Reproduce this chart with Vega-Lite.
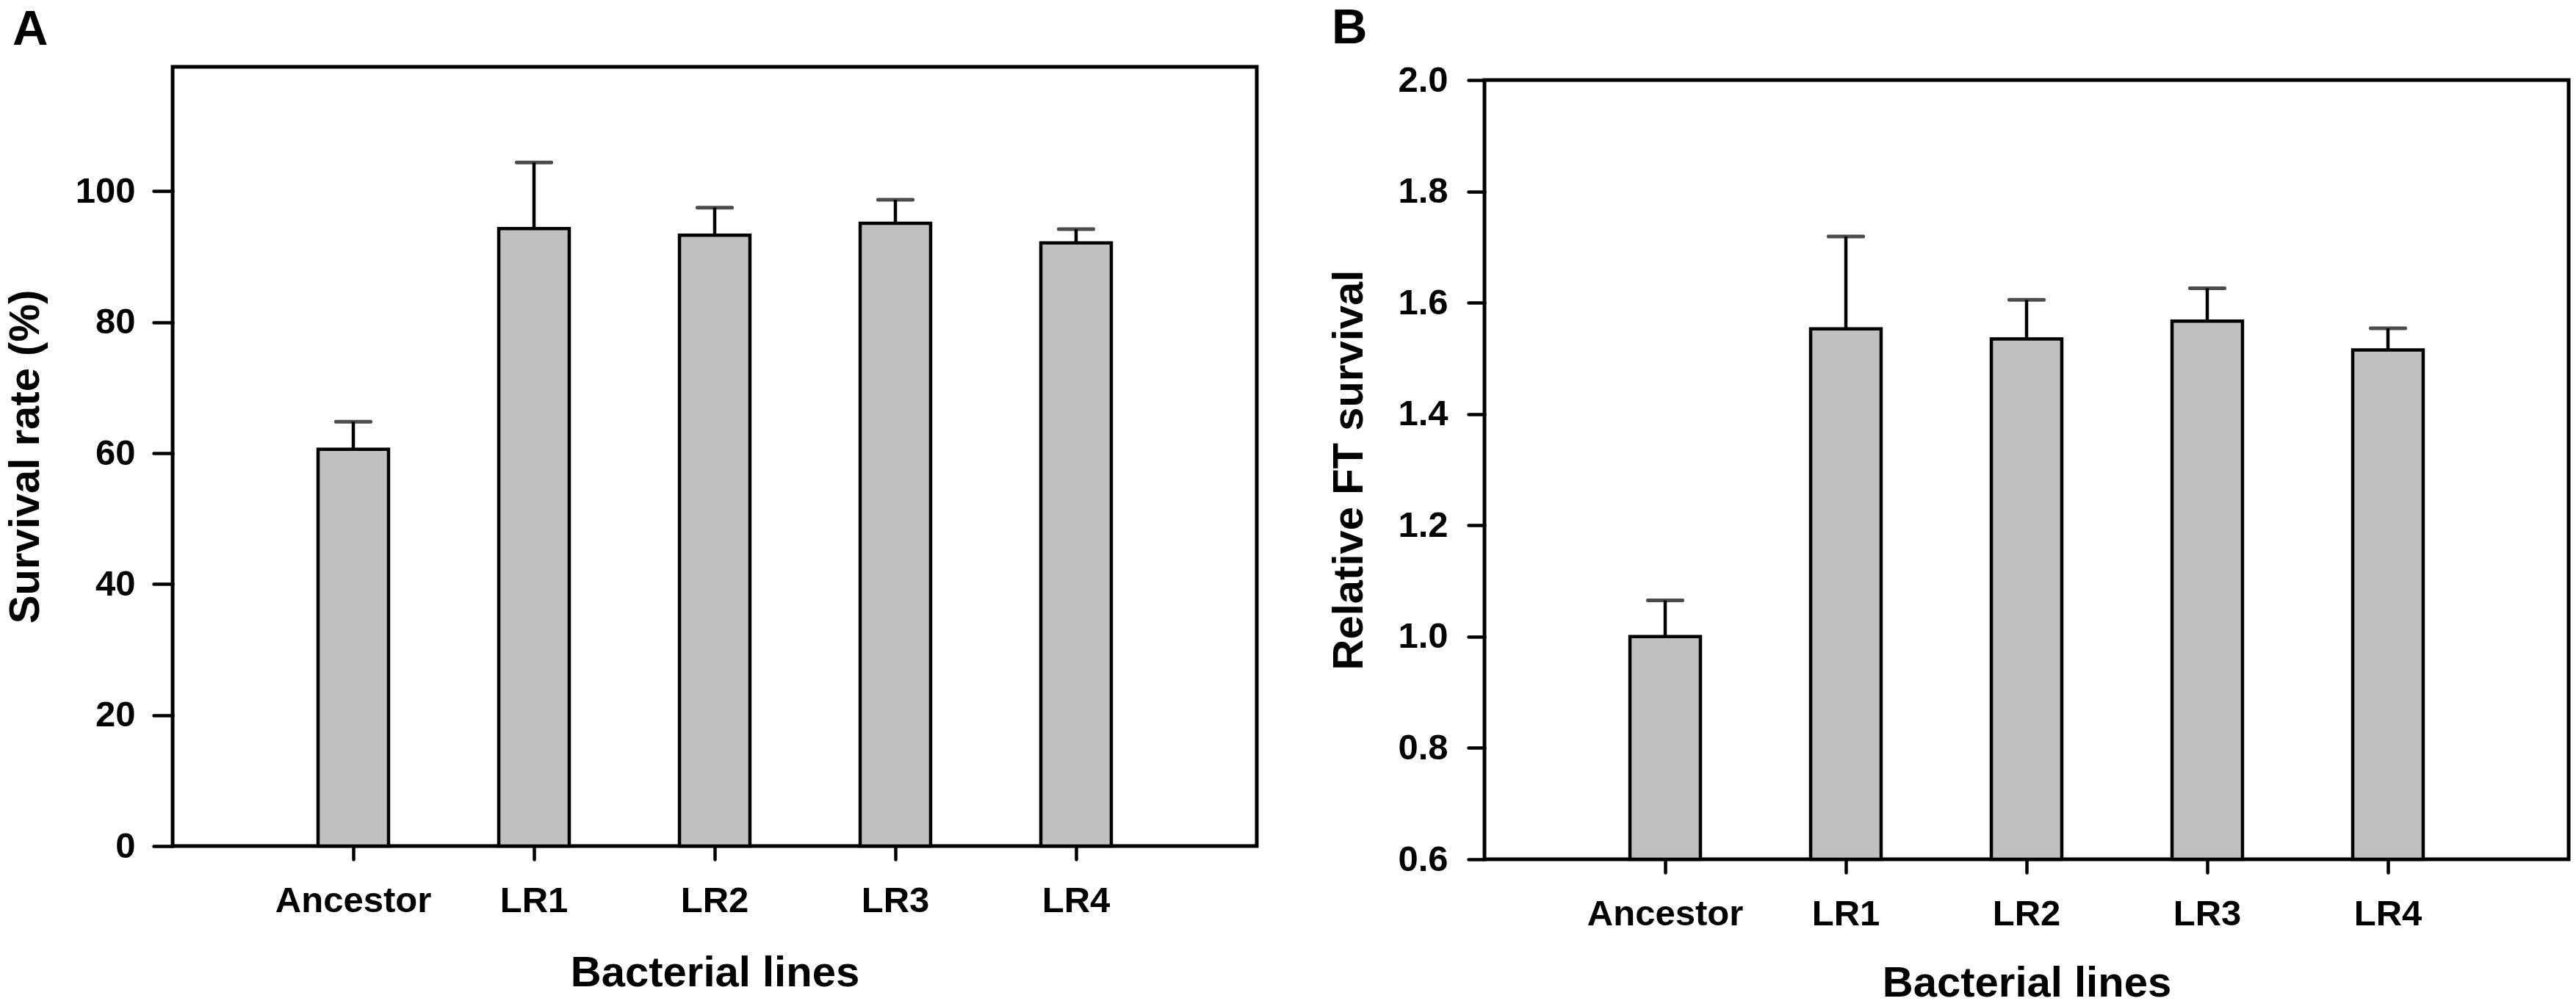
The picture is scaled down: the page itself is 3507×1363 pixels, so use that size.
{
  "$schema": "https://vega.github.io/schema/vega-lite/v6.json",
  "description": "Survival rate and relative FT survival of ancestor and evolved bacterial lines, mean with upper error bar.",
  "background": "white",
  "padding": {"left": 3, "top": 4, "right": 10, "bottom": 0},
  "spacing": 91,
  "config": {
    "font": "Liberation Sans",
    "view": {"stroke": "black", "strokeWidth": 5},
    "axis": {
      "grid": false,
      "domain": false,
      "labelFont": "Liberation Sans",
      "labelFontSize": 49,
      "labelFontWeight": "bold",
      "labelColor": "black",
      "labelLimit": 0,
      "titleFont": "Liberation Sans",
      "titleFontSize": 58,
      "titleFontWeight": "bold",
      "titleColor": "black",
      "tickColor": "black",
      "tickWidth": 4.5,
      "tickCap": "round"
    },
    "title": {
      "font": "Liberation Sans",
      "fontSize": 67,
      "fontWeight": "bold",
      "color": "black",
      "anchor": "start",
      "frame": "group",
      "baseline": "alphabetic"
    }
  },
  "hconcat": [
    {
      "title": {"text": "A", "dx": -218, "offset": 16},
      "width": 1476,
      "height": 1061,
      "data": {
        "values": [
          {"line": "Ancestor", "mean": 60.6, "upper": 64.8},
          {"line": "LR1", "mean": 94.3, "upper": 104.4},
          {"line": "LR2", "mean": 93.3, "upper": 97.5},
          {"line": "LR3", "mean": 95.1, "upper": 98.7},
          {"line": "LR4", "mean": 92.1, "upper": 94.2}
        ]
      },
      "encoding": {
        "x": {
          "field": "line",
          "type": "nominal",
          "sort": null,
          "scale": {"type": "band", "paddingInner": 0.61, "paddingOuter": 0.805},
          "axis": {
            "title": "Bacterial lines",
            "labelAngle": 0,
            "tickSize": 18,
            "labelPadding": 32,
            "titleY": 190,
            "titleBaseline": "alphabetic"
          }
        }
      },
      "layer": [
        {
          "mark": {"type": "bar", "fill": "#c0c0c0", "stroke": "black", "strokeWidth": 4.5},
          "encoding": {
            "y": {
              "field": "mean",
              "type": "quantitative",
              "scale": {"domain": [0, 119], "nice": false},
              "axis": {
                "title": "Survival rate (%)",
                "values": [0, 20, 40, 60, 80, 100],
                "format": "d",
                "tickSize": 26,
                "labelPadding": 25,
                "titleX": -183,
                "titleBaseline": "alphabetic"
              }
            }
          }
        },
        {
          "mark": {"type": "rule", "color": "black", "strokeWidth": 4.5},
          "encoding": {
            "y": {"field": "mean", "type": "quantitative"},
            "y2": {"field": "upper"}
          }
        },
        {
          "mark": {"type": "tick", "color": "black", "size": 52, "thickness": 5, "cornerRadius": 2},
          "encoding": {
            "y": {"field": "upper", "type": "quantitative"}
          }
        }
      ]
    },
    {
      "bounds": "flush",
      "spacing": 17,
      "vconcat": [
        {
          "title": {"text": "B", "dx": -208, "offset": 16},
          "width": 1476,
          "height": 1,
          "view": {"stroke": null},
          "data": {"values": [{"line": "B"}]},
          "mark": {"type": "point", "opacity": 0},
          "encoding": {}
        },
        {
          "width": 1476,
          "height": 1061,
          "data": {
            "values": [
              {"line": "Ancestor", "mean": 1.0, "upper": 1.065},
              {"line": "LR1", "mean": 1.553, "upper": 1.719},
              {"line": "LR2", "mean": 1.535, "upper": 1.605},
              {"line": "LR3", "mean": 1.567, "upper": 1.626},
              {"line": "LR4", "mean": 1.515, "upper": 1.554}
            ]
          },
          "encoding": {
            "x": {
              "field": "line",
              "type": "nominal",
              "sort": null,
              "scale": {"type": "band", "paddingInner": 0.61, "paddingOuter": 0.805},
              "axis": {
                "title": "Bacterial lines",
                "labelAngle": 0,
                "tickSize": 18,
                "labelPadding": 32,
                "titleY": 186,
                "titleBaseline": "alphabetic"
              }
            }
          },
          "layer": [
            {
              "mark": {"type": "bar", "fill": "#c0c0c0", "stroke": "black", "strokeWidth": 4.5},
              "encoding": {
                "y": {
                  "field": "mean",
                  "type": "quantitative",
                  "scale": {"domain": [0.6, 2.0], "nice": false, "zero": false},
                  "axis": {
                    "title": "Relative FT survival",
                    "values": [0.6, 0.8, 1.0, 1.2, 1.4, 1.6, 1.8, 2.0],
                    "format": ".1f",
                    "tickSize": 22,
                    "labelPadding": 28,
                    "titleX": -167,
                    "titleBaseline": "alphabetic"
                  }
                },
                "y2": {"datum": 0.6}
              }
            },
            {
              "mark": {"type": "rule", "color": "black", "strokeWidth": 4.5},
              "encoding": {
                "y": {"field": "mean", "type": "quantitative"},
                "y2": {"field": "upper"}
              }
            },
            {
              "mark": {"type": "tick", "color": "black", "size": 52, "thickness": 5, "cornerRadius": 2},
              "encoding": {
                "y": {"field": "upper", "type": "quantitative"}
              }
            }
          ]
        }
      ]
    }
  ]
}
